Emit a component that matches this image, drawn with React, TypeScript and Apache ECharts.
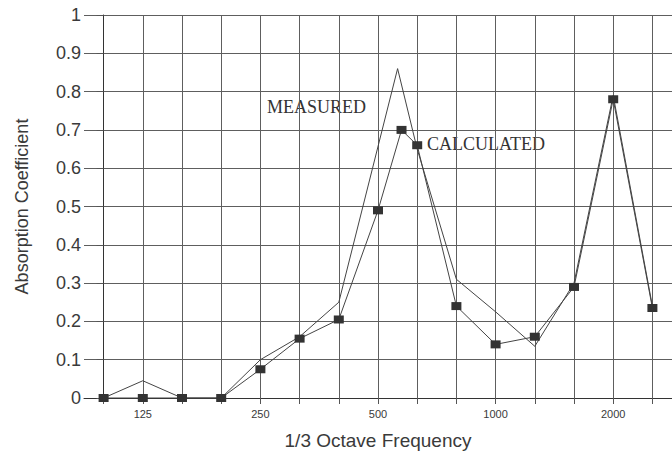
import React, { useEffect, useRef } from "react";
import * as echarts from "echarts";

// 1/3 octave band centre frequencies (one grid column each)
const bandFreqs = ["100", "125", "160", "200", "250", "315", "400", "500", "630", "800", "1000", "1250", "1600", "2000", "2500"];
const labelledFreqs = ["125", "250", "500", "1000", "2000"];
const yTicks = [0, 0.1, 0.2, 0.3, 0.4, 0.5, 0.6, 0.7, 0.8, 0.9, 1];

// Calculated curve (band index positions, absorption coefficient)
const calcPos = [0, 1, 2, 3, 4, 5, 6, 7, 7.6, 8, 9, 10, 11, 12, 13, 14];
const calcVal = [0, 0, 0, 0, 0.075, 0.155, 0.205, 0.49, 0.7, 0.66, 0.24, 0.14, 0.16, 0.29, 0.78, 0.235];

// Measured curve
const measPos = [0, 1, 2, 3, 4, 5, 6, 7.5, 8, 9, 10, 11, 12, 13, 14];
const measVal = [0, 0.045, 0, 0, 0.1, 0.16, 0.25, 0.86, 0.65, 0.31, 0.225, 0.135, 0.3, 0.79, 0.24];

export default function App() {
  const ref = useRef<HTMLDivElement>(null);

  useEffect(() => {
    if (!ref.current) return;
    const chart = echarts.init(ref.current, undefined, { renderer: "svg" });
    const bandIdx = bandFreqs.map((_, i) => i);
    const labelIdx = labelledFreqs.map((f) => bandFreqs.indexOf(f));
    const textCol = "#3a3a3a";

    chart.setOption({
      animation: false,
      backgroundColor: "#ffffff",
      grid: { left: 84, right: 0, top: 15, bottom: 53, containLabel: false, outerBoundsMode: "none" },
      xAxis: {
        type: "value",
        min: -0.5,
        max: bandFreqs.length - 0.5,
        name: "1/3 Octave Frequency",
        nameLocation: "middle",
        nameGap: 33,
        nameMoveOverlap: false,
        nameTextStyle: { fontFamily: "Liberation Sans", fontSize: 19, color: textCol },
        axisLine: { show: true, onZero: false, lineStyle: { color: "#333", width: 1 } },
        axisTick: { show: true, length: 6, inside: false, customValues: bandIdx, lineStyle: { color: "#555" } },
        axisLabel: {
          customValues: labelIdx,
          margin: 10,
          fontFamily: "Liberation Sans",
          fontSize: 11,
          color: textCol,
          formatter: (v: number) => bandFreqs[Math.round(v)] ?? "",
        },
        splitLine: { show: true, lineStyle: { color: "#5e5e5e", width: 1 } },
      },
      yAxis: {
        type: "value",
        min: 0,
        max: 1,
        interval: 0.1,
        name: "Absorption Coefficient",
        nameLocation: "middle",
        nameGap: 53,
        nameMoveOverlap: false,
        nameTextStyle: { fontFamily: "Liberation Sans", fontSize: 18, color: textCol },
        axisLine: { show: true, lineStyle: { color: "#333", width: 1 } },
        axisTick: { show: true, length: 7, inside: false, lineStyle: { color: "#555" } },
        axisLabel: {
          margin: 3,
          fontFamily: "Liberation Sans",
          fontSize: 18,
          color: textCol,
          formatter: (v: number) => {
            const t = yTicks.find((x) => Math.abs(x - v) < 1e-6);
            return t === undefined ? "" : String(t);
          },
        },
        splitLine: { show: true, lineStyle: { color: "#5e5e5e", width: 1 } },
      },
      series: [
        {
          name: "Measured",
          type: "line",
          data: measPos.map((x, i) => [x, measVal[i]]),
          showSymbol: false,
          symbol: "none",
          lineStyle: { color: "#444", width: 1 },
          z: 3,
        },
        {
          name: "Calculated",
          type: "line",
          data: calcPos.map((x, i) => [x, calcVal[i]]),
          symbol: "rect",
          symbolSize: [10, 8],
          itemStyle: { color: "#333" },
          lineStyle: { color: "#444", width: 1 },
          z: 4,
        },
      ],
      graphic: [
        {
          type: "text",
          left: 267,
          top: 98,
          style: { text: "MEASURED", font: "18px 'Liberation Serif'", fill: "#333" },
        },
        {
          type: "text",
          left: 427,
          top: 135,
          style: { text: "CALCULATED", font: "18px 'Liberation Serif'", fill: "#333" },
        },
      ],
    });
    return () => chart.dispose();
  }, []);

  return <div ref={ref} style={{ width: 672, height: 451, position: "absolute", left: 0, top: 0 }} />;
}
